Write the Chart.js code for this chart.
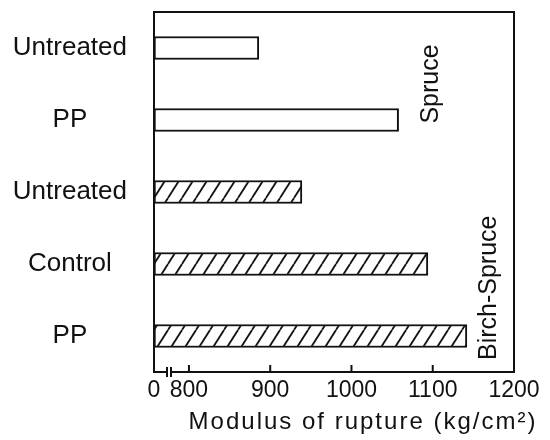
<!DOCTYPE html>
<html>
<head>
<meta charset="utf-8">
<script src="https://cdn.jsdelivr.net/npm/chart.js@4/dist/chart.umd.min.js"></script>
<style>
  html, body { margin: 0; padding: 0; background: #fff; }
  #wrap { width: 550px; height: 440px; }
</style>
</head>
<body>
<div id="wrap"><canvas id="chart" width="550" height="440"></canvas></div>
<script>
// values (kg/cm2)
const categories = ['Untreated', 'PP', 'Untreated', 'Control', 'PP'];
const rupture = [886, 1058, 939, 1094, 1142];
const hatched = [false, false, true, true, true];

// broken axis: left end is labelled 0
const axisStart = 757;
const axisEnd = 1200;
const xTicks = [800, 900, 1000, 1100, 1200];

const groupNames = ['Spruce', 'Birch-Spruce'];
const groupValue = [1098, 1169];
const groupIndex = [0.5, 3.33];

const FONT = "'Liberation Sans', Arial, sans-serif";

function makeHatch() {
  const w = 14, h = 22;
  const c = document.createElement('canvas');
  c.width = w; c.height = h;
  const g = c.getContext('2d');
  g.fillStyle = '#fff';
  g.fillRect(0, 0, w, h);
  g.strokeStyle = '#111';
  g.lineWidth = 1.8;
  [-w, 0, w].forEach(off => {
    g.beginPath();
    g.moveTo(off, h);
    g.lineTo(off + w, 0);
    g.stroke();
  });
  return g.createPattern(c, 'repeat');
}

const hatch = makeHatch();

const framePlugin = {
  id: 'frame',
  afterDraw(chart) {
    const ctx = chart.ctx;
    const a = chart.chartArea;
    const x = chart.scales.x;
    const y = chart.scales.y;
    ctx.save();
    ctx.strokeStyle = '#111';
    ctx.lineWidth = 2;
    ctx.strokeRect(a.left, a.top, a.right - a.left, a.bottom - a.top);

    // inner tick marks
    xTicks.slice(0, -1).forEach(v => {
      const px = x.getPixelForValue(v);
      ctx.beginPath();
      ctx.moveTo(px, a.bottom);
      ctx.lineTo(px, a.bottom - 7);
      ctx.stroke();
    });

    // axis break marks
    const bx = x.getPixelForValue(axisStart) + 13;
    ctx.fillStyle = '#fff';
    ctx.fillRect(bx, a.bottom - 2, 4, 4);
    ctx.lineWidth = 2;
    [bx, bx + 4].forEach(px => {
      ctx.beginPath();
      ctx.moveTo(px, a.bottom - 5);
      ctx.lineTo(px, a.bottom + 5);
      ctx.stroke();
    });

    // group labels
    ctx.fillStyle = '#111';
    ctx.font = '25px ' + FONT;
    ctx.textAlign = 'center';
    ctx.textBaseline = 'middle';
    groupNames.forEach((name, i) => {
      ctx.save();
      ctx.translate(x.getPixelForValue(groupValue[i]), y.getPixelForValue(groupIndex[i]));
      ctx.rotate(-Math.PI / 2);
      ctx.fillText(name, 0, 0);
      ctx.restore();
    });

    // axis title
    ctx.font = '24px ' + FONT;
    ctx.letterSpacing = '2px';
    ctx.textBaseline = 'alphabetic';
    ctx.fillText('Modulus of rupture (kg/cm²)', 363, 429);
    ctx.restore();
  }
};

new Chart(document.getElementById('chart'), {
  type: 'bar',
  data: {
    labels: categories,
    datasets: [{
      data: rupture,
      base: axisStart,
      backgroundColor: hatched.map(h => h ? hatch : '#fff'),
      borderColor: '#111',
      borderWidth: 2,
      borderSkipped: false,
      barThickness: 23
    }]
  },
  options: {
    indexAxis: 'y',
    responsive: false,
    animation: false,
    layout: { padding: { top: 12, right: 36, left: 0, bottom: 0 } },
    plugins: {
      legend: { display: false },
      tooltip: { enabled: false }
    },
    scales: {
      x: {
        min: axisStart,
        max: axisEnd,
        afterBuildTicks: (scale) => {
          scale.ticks = [axisStart].concat(xTicks).map(v => ({ value: v }));
        },
        afterFit: (scale) => { scale.height = 68; },
        grid: { display: false, drawTicks: false },
        border: { display: false },
        ticks: {
          color: '#111',
          font: { family: FONT, size: 23 },
          padding: 5,
          maxRotation: 0,
          autoSkip: false,
          callback: (v) => v === axisStart ? '0' : String(v)
        }
      },
      y: {
        afterFit: (scale) => {
          scale.width = 154;
          scale.paddingTop = 0;
          scale.paddingBottom = 0;
        },
        grid: { display: false, drawTicks: false },
        border: { display: false },
        ticks: {
          color: '#111',
          font: { family: FONT, size: 26 },
          crossAlign: 'center',
          padding: 27
        }
      }
    }
  },
  plugins: [framePlugin]
});
</script>
</body>
</html>
